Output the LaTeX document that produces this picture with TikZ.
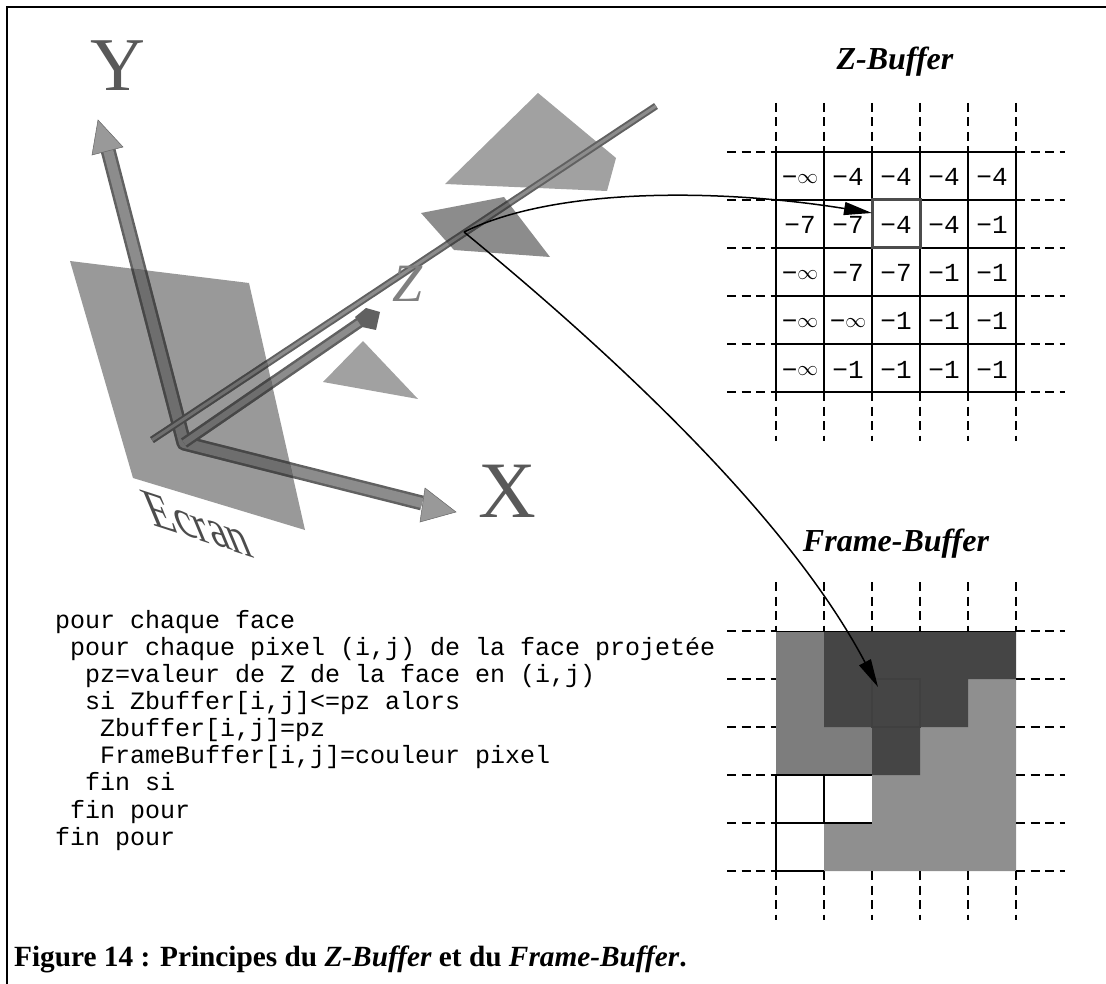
\documentclass[tikz,border=0pt]{standalone}
\usepackage{fontspec}
\setmainfont{Liberation Serif}
\setmonofont{Liberation Mono}
\usepackage{xcolor}
\usetikzlibrary{arrows.meta,calc}

\definecolor{faceLight}{gray}{0.63}
\definecolor{faceScreen}{gray}{0.60}
\definecolor{faceMid}{gray}{0.55}
\definecolor{fbLight}{gray}{0.56}
\definecolor{fbMid}{gray}{0.49}
\definecolor{fbDark}{gray}{0.27}

% axes drawn twice: plain, then darker inside the faces they cross
\newcommand{\drawAxes}[2]{%
  \draw[line width=15pt, #1, line join=round] (yBase) -- (origin) -- (xBase);
  \draw[line width=10pt, #2, line join=round] (yBase) -- (origin) -- (xBase);
  \draw[line width=11pt, #1] (origin) -- (zBase);
  \draw[line width=6pt, #2] (origin) -- (zBase);
  \draw[line width=7pt, #1] (rodA) -- (rodB);
  \draw[line width=3pt, #2] (rodA) -- (rodB);
}
\newcommand{\mInf}{−\raisebox{2.5pt}{\fontsize{21}{21}\selectfont$\infty$}}

\begin{document}
\begin{tikzpicture}[
  x=1pt, y=-1pt,
  gridLine/.style={line width=1.5pt},
  gridDash/.style={line width=1.5pt, dash pattern=on 9pt off 5.5pt},
  cellText/.style={font=\fontsize{26}{26}\selectfont\ttfamily, inner sep=0pt, anchor=base},
  bufTitle/.style={font=\fontsize{32}{32}\selectfont\bfseries\itshape, inner sep=0pt},
  axisLabel/.style={font=\fontsize{80}{80}\selectfont, text=black!65, inner sep=0pt},
  axisHead/.style={fill=black!40, draw=black!60, line width=0.5pt},
  arcArrow/.style={-{Triangle[length=28pt,width=13pt]}, line width=1.5pt}
]
  \useasboundingbox (0,0) rectangle (1106,984);
  \draw[line width=2pt] (7,984) -- (7,7) -- (1106,7);

  \coordinate (origin) at (184,443);
  \coordinate (yBase) at (108,150);
  \coordinate (xBase) at (422,503);
  \coordinate (zBase) at (366,318);
  \coordinate (rodA) at (152,440);
  \coordinate (rodB) at (656,106);

  % Faces
  \fill[faceScreen] (70,261) -- (249,283) -- (305,530) -- (133,478) -- cycle;
  \fill[faceLight] (538,93) -- (616,158) -- (607,191) -- (445,184) -- cycle;
  \fill[faceMid] (421,213) -- (504,197) -- (550,257) -- (454,250) -- cycle;
  \fill[faceLight] (363,341) -- (418,399) -- (323,382) -- cycle;

  % Axes
  \drawAxes{black!62}{black!45}
  \begin{scope}
    \clip (70,261) -- (249,283) -- (305,530) -- (133,478) -- cycle;
    \drawAxes{black!72}{black!57}
  \end{scope}
  \begin{scope}
    \clip (421,213) -- (504,197) -- (550,257) -- (454,250) -- cycle;
    \drawAxes{black!72}{black!57}
  \end{scope}
  \fill[axisHead] (98,120) -- (123,147) -- (92,155) -- cycle;
  \fill[axisHead] (456,512) -- (425,488) -- (420,522) -- cycle;
  \fill[black!62] (355,317) -- (366,308) -- (380,312) -- (376,330) -- (362,327) -- cycle;

  \node[axisLabel, font=\fontsize{76}{76}\selectfont] (labelY) at (118,66) {Y};
  \node[axisLabel] (labelX) at (507,491) {X};
  \node[axisLabel, font=\fontsize{54}{54}\selectfont\itshape, text=black!50] (labelZ) at (408,284) {Z};
  \node[axisLabel, font=\fontsize{46}{46}\selectfont, cm={.951,-.309,-.50,1.2,(0,0)}, text=black!70] (labelEcran) at (197,524) {Ecran};

  % Z-Buffer
  \node[bufTitle] (titleZ) at (895,62) {Z-Buffer};
  \foreach \i in {0,...,5} {
    \draw[gridLine] ({776+48*\i},152) -- ({776+48*\i},392);
    \draw[gridLine] (776,{152+48*\i}) -- (1016,{152+48*\i});
  }
  \foreach \vals [count=\r from 0] in {{\mInf,−4,−4,−4,−4},{−7,−7,−4,−4,−1},{\mInf,−7,−7,−1,−1},{\mInf,\mInf,−1,−1,−1},{\mInf,−1,−1,−1,−1}} {
    \foreach \v [count=\c from 0] in \vals {
      \node[cellText] (z\r\c) at ({800+48*\c},{186+48*\r}) {\v};
    }
  }
  \draw[line width=3pt, black!70] (872,200) rectangle (920,248);

  % Frame-Buffer
  \node[bufTitle] (titleF) at (896,544) {Frame-Buffer};
  \fill[fbMid] (776,631) -- (824,631) -- (824,727) -- (872,727) -- (872,775) -- (776,775) -- cycle;
  \fill[fbLight] (968,679) -- (1016,679) -- (1016,871) -- (824,871) -- (824,823) -- (872,823) -- (872,775) -- (920,775) -- (920,727) -- (968,727) -- cycle;
  \fill[fbDark] (824,631) -- (1016,631) -- (1016,679) -- (968,679) -- (968,727) -- (920,727) -- (920,775) -- (872,775) -- (872,727) -- (824,727) -- cycle;
  \draw[line width=1.5pt, black!75] (872,679) rectangle (920,727);
  \draw[gridLine] (776,775) -- (776,871) -- (824,871);
  \draw[gridLine] (824,775) -- (824,823);
  \draw[gridLine] (776,775) -- (872,775);
  \draw[gridLine] (776,823) -- (872,823);
  \draw[line width=1pt] (776,631) -- (1016,631);

  % Dashes around both buffers
  \foreach \top in {152,631} {
    \foreach \i in {0,...,5} {
      \draw[gridDash] ({776+48*\i},\top-49) -- ({776+48*\i},\top);
      \draw[gridDash] ({776+48*\i},\top+240) -- ({776+48*\i},\top+289);
      \draw[gridDash] (727,{\top+48*\i}) -- (776,{\top+48*\i});
      \draw[gridDash] (1016,{\top+48*\i}) -- (1065,{\top+48*\i});
    }
  }

  % Arrows
  \coordinate (hit) at (464,232);
  \coordinate (zTarget) at (872,213);
  \coordinate (fTarget) at (878,687);
  \draw[arcArrow] (hit) .. controls (560,185) and (730,190) .. (zTarget);
  \draw[arcArrow] (hit) .. controls (620,360) and (790,520) .. (fTarget);

  % Pseudo code
  \node[anchor=north west, inner sep=0pt, align=left,
        font=\fontsize{25}{27.1}\selectfont\ttfamily] (code) at (55,610) {%
    pour chaque face\\
    \ pour chaque pixel (i,j) de la face projetée\\
    \ \ pz=valeur de Z de la face en (i,j)\\
    \ \ si Zbuffer[i,j]<=pz alors\\
    \ \ \ Zbuffer[i,j]=pz\\
    \ \ \ FrameBuffer[i,j]=couleur pixel\\
    \ \ fin si\\
    \ fin pour\\
    fin pour};

  \node[anchor=base west, inner sep=0pt, font=\fontsize{29.3}{29.3}\selectfont\bfseries] (caption) at (14,966)
    {Figure 14 : Principes du \textit{Z-Buffer} et du \textit{Frame-Buffer}.};
\end{tikzpicture}
\end{document}
